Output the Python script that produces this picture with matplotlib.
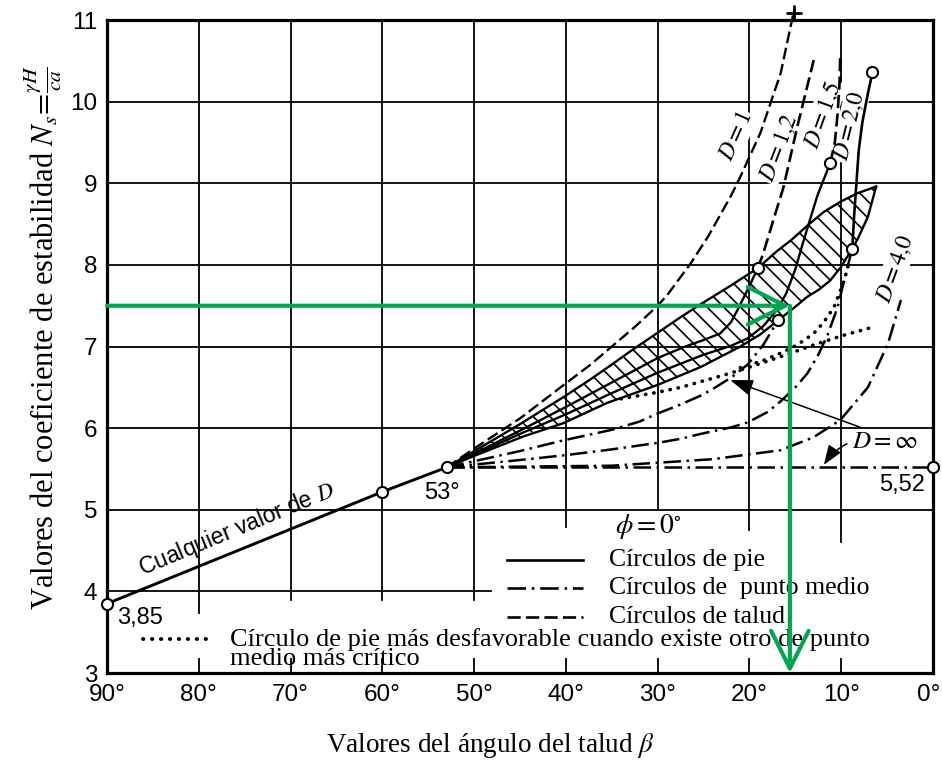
import matplotlib.pyplot as plt
from matplotlib.transforms import ScaledTranslation

plt.rcParams['font.family'] = ['Liberation Sans', 'DejaVu Sans']
plt.rcParams['mathtext.fontset'] = 'stix'
plt.rcParams['hatch.linewidth'] = 1.2

SERIF = ['Liberation Serif', 'DejaVu Serif']

base_beta = [90, 60, 53]
base_ns = [3.85, 5.22, 5.52]

# D = 1, circulo de talud
d1_beta = [53, 50, 45, 40, 37.3, 35, 32.5, 30, 28.9, 26.4, 24.5, 22, 21, 18.8, 16.6, 15.2]
d1_ns = [5.52, 5.75, 6.12, 6.55, 6.78, 7.0, 7.24, 7.5, 7.64, 8.02, 8.35, 8.85, 9.08, 9.62, 10.35, 11.09]

# borde superior de la zona rayada
up_beta = [53, 48, 45, 40, 37.3, 35, 33, 30, 27.5, 25.3, 22, 19.1, 17, 15.5, 13.5, 11.9, 10, 8.2, 6.2]
up_ns = [5.52, 5.85, 6.05, 6.40, 6.60, 6.78, 6.94, 7.17, 7.36, 7.52, 7.75, 7.96, 8.17, 8.30, 8.50, 8.65, 8.78, 8.88, 8.96]

# borde inferior de la zona rayada
lo_beta = [53, 50, 44.6, 40.3, 35.5, 30, 25.3, 21, 18.8, 16.9, 15.2, 13.7, 12.4, 11.2, 10, 8.8, 8.2, 7.1, 6.2]
lo_ns = [5.52, 5.66, 5.90, 6.06, 6.31, 6.53, 6.75, 7.0, 7.15, 7.32, 7.47, 7.61, 7.70, 7.81, 7.98, 8.2, 8.32, 8.59, 8.96]

# circulos de pie dentro de la zona
d12_pie_beta = [53, 45, 40, 35, 30, 27, 25, 23.2, 22, 21.3, 20.1, 19.1]
d12_pie_ns = [5.52, 5.97, 6.26, 6.56, 6.86, 7.0, 7.08, 7.16, 7.3, 7.45, 7.72, 7.96]
d15_pie_beta = [53, 45, 40, 35, 30, 25, 22, 20.2, 18.5, 17, 16, 15, 14.1, 12.6, 11.2]
d15_pie_ns = [5.52, 5.93, 6.17, 6.43, 6.68, 6.9, 7.01, 7.1, 7.25, 7.45, 7.65, 7.95, 8.3, 8.85, 9.25]
d20_pie_beta = [8.8, 8.6, 8.35, 8.1, 7.7, 7.1, 6.6]
d20_pie_ns = [8.2, 8.6, 9.0, 9.4, 9.75, 10.1, 10.36]

# circulos de talud por encima de la zona
d12_tal_beta = [19.1, 18.5, 17.4, 16.3, 14.8, 13.0]
d12_tal_ns = [7.96, 8.14, 8.55, 8.95, 9.69, 10.51]
d15_tal_beta = [11.2, 10.7, 10.4, 10.2, 10.1]
d15_tal_ns = [9.25, 9.5, 9.85, 10.2, 10.6]

# circulos de punto medio
d15_med_beta = [53, 45, 40.3, 35, 32, 30, 27.5, 25.3, 24, 22, 20.2, 18.5, 16.9]
d15_med_ns = [5.52, 5.72, 5.85, 5.98, 6.08, 6.18, 6.29, 6.40, 6.48, 6.62, 6.78, 7.02, 7.32]
d20_med_beta = [53, 45, 40, 35, 30, 27.5, 25.3, 22, 20.2, 18, 16.6, 15, 13.7, 12.5, 11.5, 10.4, 9.6, 8.8]
d20_med_ns = [5.52, 5.61, 5.67, 5.74, 5.82, 5.87, 5.93, 6.01, 6.07, 6.2, 6.33, 6.5, 6.67, 6.9, 7.14, 7.48, 7.85, 8.2]
d40_med_beta = [53, 35, 24, 16.6, 13, 10.1, 7.1, 4.9, 3.5]
d40_med_ns = [5.52, 5.54, 5.62, 5.73, 5.89, 6.1, 6.5, 7.04, 7.57]
dinf_beta = [53, 0]
dinf_ns = [5.52, 5.52]

# circulos de pie mas desfavorables (punteados)
dot1_beta = [34, 30, 27.5, 25.3, 22.5, 20.2, 17, 13, 10, 6.5]
dot1_ns = [6.36, 6.44, 6.50, 6.57, 6.66, 6.74, 6.86, 7.02, 7.13, 7.24]
dot2_beta = [21, 18.5, 16.6, 14.8, 13.0, 11.9, 10.8, 9.7, 9.1]
dot2_ns = [6.74, 6.83, 6.92, 7.02, 7.16, 7.30, 7.48, 7.80, 8.05]

# puntos marcados con circulo
pts_beta = [90, 60, 53, 0, 19.1, 11.2, 8.8, 16.9, 6.6]
pts_ns = [3.85, 5.22, 5.52, 5.52, 7.96, 9.25, 8.2, 7.32, 10.36]

# lectura del ejemplo (flechas verdes)
g_beta = 15.6
g_ns = 7.5

d_labels = [r'$D = 1$', r'$D = 1{,}2$', r'$D = 1{,}5$', r'$D = 2{,}0$', r'$D = 4{,}0$']
d_lab_beta = [21.4, 16.8, 12.0, 9.1, 4.1]
d_lab_ns = [9.57, 9.44, 9.84, 9.70, 7.96]
d_lab_rot = [66, 69, 70, 76, 70]

x_ticks = list(range(90, -1, -10))
y_ticks = list(range(3, 12))

fig = plt.figure(figsize=(9.42, 7.69), dpi=100)
ax = fig.add_axes([0.1136, 0.1248, 0.8769, 0.8491])
ax.set_xlim(90, 0)
ax.set_ylim(3, 11)

# reticula (interrumpida en la zona de la leyenda)
v_low = [3.74, 3.9, 3.9, 3.89, 4.79, 5.0, 4.75, 4.61]
for b, yl in zip(x_ticks[1:-1], v_low):
    ax.plot([b, b], [yl, 11], color='black', lw=1.3, zorder=1)
for n in y_ticks[2:-1]:
    ax.plot([90, 0], [n, n], color='black', lw=1.3, zorder=1)
ax.plot([90, 48.2], [4, 4], color='black', lw=1.3, zorder=1)

k = dict(color='black', zorder=3)
dash = (0, (5, 2))
dashdot = (0, (7, 2.2, 1, 2.2))
dots = (0, (0.1, 2.2))

ax.plot(base_beta, base_ns, lw=2.1, solid_capstyle='round', **k)

ax.fill(up_beta + lo_beta[::-1], up_ns + lo_ns[::-1], facecolor='none',
        edgecolor='black', hatch='\\\\', lw=0, zorder=2)
ax.plot(up_beta, up_ns, lw=1.7, **k)
ax.plot(lo_beta, lo_ns, lw=1.7, **k)
ax.plot(d12_pie_beta, d12_pie_ns, lw=1.7, **k)
ax.plot(d15_pie_beta, d15_pie_ns, lw=1.7, **k)
ax.plot(d20_pie_beta, d20_pie_ns, lw=1.9, **k)

ax.plot(d1_beta, d1_ns, lw=1.7, ls=dash, clip_on=False, **k)
ax.plot(d1_beta[-1], d1_ns[-1], marker='+', ms=11, mew=2, clip_on=False, **k)
ax.plot(d12_tal_beta, d12_tal_ns, lw=1.9, ls=dash, **k)
ax.plot(d15_tal_beta, d15_tal_ns, lw=1.9, ls=dash, **k)

for bb, nn in [(d15_med_beta, d15_med_ns), (d20_med_beta, d20_med_ns),
               (d40_med_beta, d40_med_ns), (dinf_beta, dinf_ns)]:
    ax.plot(bb, nn, lw=1.8, ls=dashdot, **k)

for bb, nn in [(dot1_beta, dot1_ns), (dot2_beta, dot2_ns)]:
    ax.plot(bb, nn, lw=2.6, ls=dots, dash_capstyle='round', **k)

ax.plot(pts_beta, pts_ns, ls='none', marker='o', ms=8, mfc='white', mec='black',
        mew=1.5, clip_on=False, zorder=5)

# etiquetas de las curvas
for lab, bb, nn, rr in zip(d_labels, d_lab_beta, d_lab_ns, d_lab_rot):
    ax.text(bb, nn, lab, rotation=rr, ha='center', va='center', fontsize=17,
            family=SERIF, zorder=1.5,
            bbox=dict(facecolor='white', edgecolor='none', pad=1))

ax.annotate('', xy=(22.1, 6.59), xytext=(7.9, 6.01),
            arrowprops=dict(arrowstyle='-|>,head_length=0.7,head_width=0.25', color='black',
                            lw=1.1, shrinkA=0, shrinkB=0, mutation_scale=20), zorder=4)
ax.annotate(r'$D = \infty$', xy=(11.9, 5.55), xytext=(5.2, 5.84), ha='center', va='center',
            fontsize=18,
            arrowprops=dict(arrowstyle='-|>,head_length=0.6,head_width=0.22', color='black',
                            lw=1.1, shrinkA=2, shrinkB=0, mutation_scale=20,
                            connectionstyle='arc3,rad=0.35'), zorder=4)

ax.text(75.8, 4.76, r'Cualquier valor de $D$', rotation=22.5, ha='center', va='center',
        fontsize=16.5)
ax.text(86.4, 3.67, '3,85', ha='center', va='center', fontsize=17)
ax.text(53.5, 5.2, '53°', ha='center', va='center', fontsize=17)
ax.text(3.4, 5.30, '5,52', ha='center', va='center', fontsize=17)

# leyenda
ax.text(0.655, 0.224, r'$\phi = 0^{\circ}$', transform=ax.transAxes, ha='center',
        va='center', fontsize=20)
leg_styles = ['-', dashdot, dash]
leg_text = ['Círculos de pie', 'Círculos de  punto medio', 'Círculos de talud']
for i, (st, tx) in enumerate(zip(leg_styles, leg_text)):
    yy = 0.173 - i * 0.0435
    ax.plot([0.484, 0.576], [yy, yy], transform=ax.transAxes, ls=st, lw=1.9, **k)
    ax.text(0.608, yy, tx, transform=ax.transAxes, va='center', fontsize=18.5, family=SERIF)
ax.plot([0.044, 0.128], [0.052, 0.052], transform=ax.transAxes, ls=dots, lw=2.8,
        dash_capstyle='round', **k)
ax.text(0.149, 0.037,
        'Círculo de pie más desfavorable cuando existe otro de punto\nmedio más crítico',
        transform=ax.transAxes, va='center', fontsize=19, family=SERIF, linespacing=0.85)

# flechas verdes
green = '#00a650'
gk = dict(arrowstyle='->,head_length=0.9,head_width=0.45', color=green, lw=3,
          shrinkA=0, shrinkB=0, mutation_scale=30)
ax.annotate('', xy=(g_beta, g_ns), xytext=(90, g_ns), arrowprops=gk, zorder=6,
            annotation_clip=False)
ax.annotate('', xy=(g_beta, 3.0), xytext=(g_beta, g_ns), arrowprops=gk, zorder=6,
            annotation_clip=False)

# ejes
ax.set_xticks(x_ticks)
ax.set_xticklabels([f'{b}°' for b in x_ticks[:-1]] + [''])
ax.text(0.45, 3.0, '0°', ha='center', va='top', fontsize=17.5, clip_on=False,
        transform=ax.transData + ScaledTranslation(0, -8 / 72, fig.dpi_scale_trans))
ax.set_yticks(y_ticks)
ax.tick_params(axis='x', direction='in', length=11, width=1.3, pad=8, labelsize=17.5)
ax.tick_params(axis='y', length=0, pad=7, labelsize=17.5)
for s in ax.spines.values():
    s.set_linewidth(2.3)

fig.text(490 / 942, 1 - 745 / 769, r'Valores del ángulo del talud $\beta$', ha='center',
         va='center', fontsize=19.5, family=SERIF)
fig.text(43 / 942, 1 - 338 / 769,
         r'Valores del coeficiente de estabilidad $N_s\!=\!\frac{\gamma H}{ca}$',
         rotation=90, ha='center', va='center', fontsize=22, family=SERIF)

fig.savefig('out.png', dpi=100)
